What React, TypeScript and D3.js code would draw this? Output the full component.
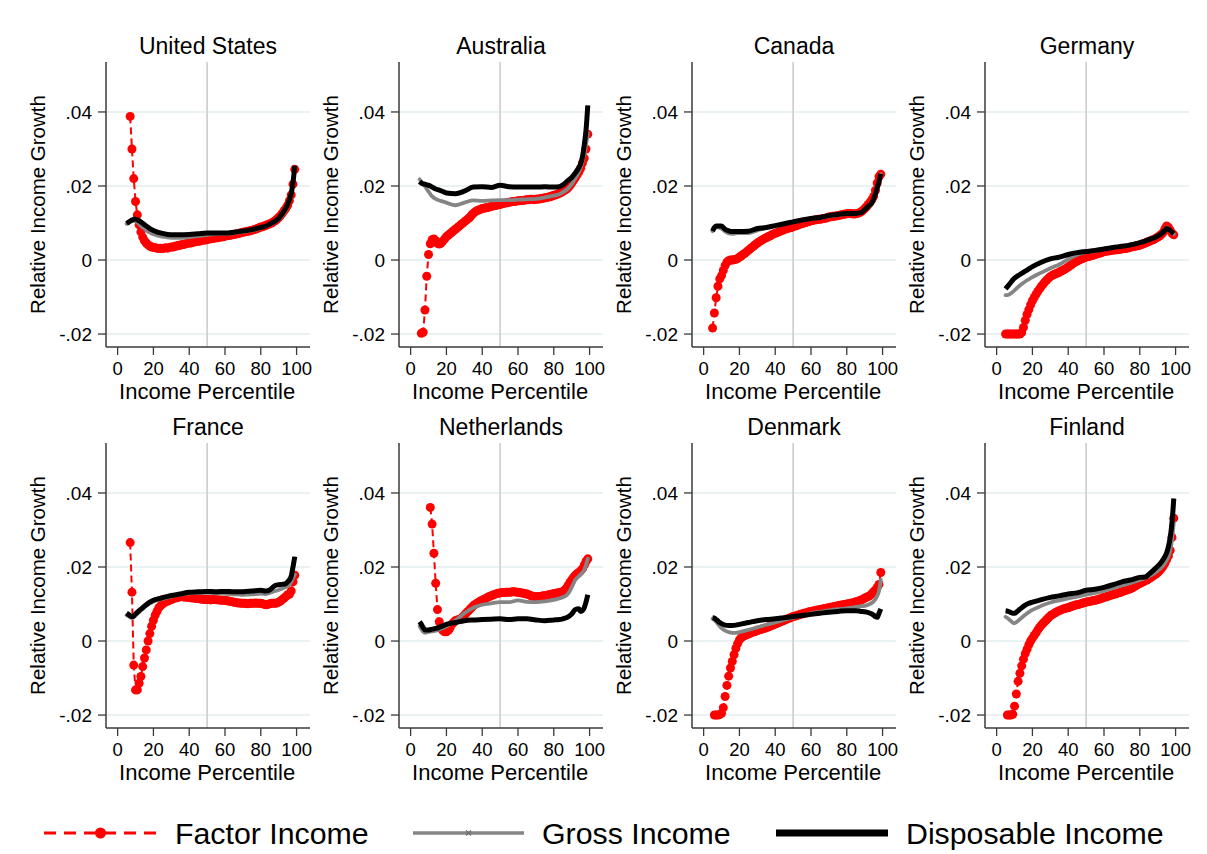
import React from 'react';
import * as d3 from 'd3';

// ---------- categories / labels ----------
const COUNTRIES = ["United States", "Australia", "Canada", "Germany", "France", "Netherlands", "Denmark", "Finland"];
const SERIES_NAMES = ["Factor Income", "Gross Income", "Disposable Income"];
const Y_TICKS = [-0.02, 0, 0.02, 0.04];
const Y_TICK_LABELS = ["-.02", "0", ".02", ".04"];
const X_TICKS = [0, 20, 40, 60, 80, 100];
const X_TITLE = "Income Percentile";
const Y_TITLE = "Relative Income Growth";

// percentiles for factor income (5..99, one per percentile)
const FACTOR_PCT = d3.range(5, 100);
// percentiles at which gross / disposable income are read
const LINE_PCT = [5, 6, 7, 8, 9, 10, 12, 14, 16, 18, 20, 25, 30, 35, 40, 45, 50, 55, 60, 65, 70, 75, 80, 83, 85, 88, 90, 92, 94, 95, 96, 97, 98, 99];

// ---------- United States ----------
const US_FACTOR = [
  null, null, .0388, .0300, .0220, .0158, .0122, .0095, .0076, .0062,
  .0052, .0046, .0041, .0038, .0035, .0034, .0033, .0032, .0031, .0032,
  .0031, .0032, .0033, .0032, .0034, .0035, .0035, .0037, .0038, .0040,
  .0040, .0042, .0042, .0044, .0045, .0046, .0046, .0048, .0049, .0050,
  .0051, .0051, .0053, .0054, .0054, .0055, .0057, .0057, .0058, .0059,
  .0060, .0060, .0062, .0062, .0063, .0064, .0066, .0066, .0067, .0068,
  .0069, .0070, .0071, .0072, .0074, .0075, .0076, .0077, .0078, .0079,
  .0080, .0082, .0083, .0085, .0087, .0089, .0090, .0092, .0094, .0096,
  .0098, .0100, .0103, .0106, .0110, .0115, .0120, .0126, .0133, .0140,
  .0148, .0160, .0176, .0205, .0245,
];
const US_GROSS = [.0098, .0100, .0103, .0105, .0106, .0105, .0097, .0088, .0080, .0074, .0070, .0063, .0060, .0060, .0062, .0065, .0068, .0070, .0071, .0073, .0076, .0080, .0086, .0091, .0095, .0103, .0110, .0120, .0135, .0145, .0158, .0175, .0205, .0250];
const US_DISP = [.0099, .0102, .0105, .0108, .0110, .0110, .0106, .0099, .0092, .0085, .0080, .0072, .0068, .0068, .0069, .0071, .0073, .0073, .0073, .0075, .0078, .0082, .0088, .0092, .0097, .0105, .0113, .0125, .0140, .0150, .0163, .0180, .0210, .0255];

// ---------- Australia ----------
const AU_FACTOR = [
  null, -.0198, -.0195, -.0135, -.0044, .0015, .0044, .0055, .0057, .0052,
  .0045, .0043, .0046, .0051, .0057, .0063, .0067, .0071, .0075, .0079,
  .0083, .0087, .0091, .0095, .0099, .0103, .0107, .0111, .0115, .0121,
  .0126, .0130, .0133, .0135, .0137, .0139, .0140, .0141, .0142, .0143,
  .0145, .0146, .0147, .0148, .0149, .0150, .0152, .0153, .0154, .0155,
  .0156, .0157, .0158, .0158, .0159, .0160, .0160, .0161, .0161, .0162,
  .0163, .0163, .0164, .0164, .0163, .0164, .0165, .0165, .0166, .0167,
  .0168, .0169, .0170, .0171, .0173, .0175, .0176, .0178, .0180, .0182,
  .0185, .0188, .0191, .0195, .0201, .0208, .0215, .0222, .0230, .0238,
  .0248, .0262, .0275, .0300, .0340,
];
const AU_GROSS = [.0218, .0212, .0205, .0200, .0192, .0185, .0172, .0165, .0161, .0158, .0155, .0148, .0155, .0161, .0160, .0161, .0162, .0162, .0163, .0164, .0165, .0169, .0174, .0178, .0183, .0193, .0205, .0220, .0238, .0250, .0265, .0285, .0310, .0345];
const AU_DISP = [.0212, .0208, .0206, .0205, .0203, .0202, .0197, .0192, .0189, .0185, .0181, .0179, .0186, .0197, .0198, .0196, .0202, .0198, .0197, .0197, .0197, .0198, .0197, .0198, .0203, .0215, .0223, .0235, .0250, .0260, .0278, .0310, .0350, .0418];

// ---------- Canada ----------
const CA_FACTOR = [
  -.0184, -.0143, -.0102, -.0071, -.0051, -.0042, -.0028, -.0015, -.0006, -.0002,
  .0000, .0000, .0001, .0002, .0004, .0008, .0011, .0015, .0018, .0022,
  .0026, .0030, .0034, .0038, .0042, .0046, .0049, .0052, .0055, .0058,
  .0060, .0063, .0065, .0068, .0070, .0072, .0074, .0076, .0078, .0080,
  .0082, .0084, .0085, .0087, .0088, .0090, .0092, .0093, .0095, .0097,
  .0098, .0100, .0101, .0103, .0104, .0106, .0107, .0108, .0109, .0110,
  .0110, .0111, .0112, .0113, .0114, .0116, .0117, .0118, .0118, .0119,
  .0120, .0121, .0122, .0123, .0124, .0125, .0126, .0126, .0125, .0124,
  .0125, .0126, .0128, .0130, .0134, .0139, .0144, .0150, .0156, .0163,
  .0172, .0188, .0208, .0225, .0232,
];
const CA_GROSS = [.0078, .0084, .0088, .0088, .0087, .0085, .0077, .0072, .0071, .0072, .0073, .0073, .0080, .0087, .0092, .0098, .0103, .0107, .0111, .0114, .0118, .0121, .0125, .0126, .0126, .0128, .0135, .0143, .0153, .0162, .0175, .0192, .0210, .0232];
const CA_DISP = [.0078, .0088, .0092, .0092, .0092, .0092, .0083, .0079, .0077, .0077, .0077, .0078, .0085, .0088, .0093, .0098, .0103, .0108, .0112, .0115, .0120, .0123, .0126, .0126, .0126, .0128, .0136, .0145, .0155, .0165, .0178, .0195, .0212, .0233];

// ---------- Germany ----------
const DE_FACTOR = [
  -.0200, -.0200, -.0200, -.0200, -.0200, -.0200, -.0200, -.0200, -.0200, -.0196,
  -.0182, -.0163, -.0147, -.0134, -.0121, -.0110, -.0101, -.0093, -.0085, -.0078,
  -.0071, -.0065, -.0059, -.0054, -.0049, -.0045, -.0042, -.0039, -.0037, -.0035,
  -.0033, -.0030, -.0028, -.0025, -.0022, -.0019, -.0016, -.0012, -.0008, -.0005,
  -.0003, .0000, .0002, .0004, .0006, .0008, .0009, .0010, .0012, .0013,
  .0015, .0016, .0018, .0019, .0021, .0023, .0024, .0024, .0025, .0026,
  .0027, .0027, .0028, .0028, .0029, .0030, .0031, .0031, .0032, .0033,
  .0035, .0036, .0037, .0038, .0039, .0040, .0042, .0044, .0046, .0048,
  .0050, .0052, .0054, .0056, .0059, .0062, .0065, .0069, .0074, .0084,
  .0092, .0088, .0080, .0072, .0068,
];
const DE_GROSS = [-.0095, -.0095, -.0093, -.0090, -.0086, -.0082, -.0073, -.0065, -.0058, -.0052, -.0046, -.0034, -.0022, -.0012, .0002, .0014, .0021, .0025, .0030, .0034, .0037, .0041, .0047, .0051, .0055, .0061, .0066, .0072, .0082, .0088, .0085, .0080, .0075, .0070];
const DE_DISP = [-.0078, -.0072, -.0066, -.0060, -.0054, -.0049, -.0042, -.0036, -.0030, -.0024, -.0018, -.0006, .0003, .0008, .0015, .0020, .0023, .0026, .0030, .0034, .0037, .0041, .0047, .0051, .0055, .0060, .0065, .0071, .0080, .0085, .0083, .0080, .0075, .0071];

// ---------- France ----------
const FR_FACTOR = [
  null, null, .0266, .0132, -.0065, -.0132, -.0132, -.0114, -.0096, -.0069,
  -.0046, -.0024, .0000, .0020, .0040, .0056, .0070, .0080, .0090, .0095,
  .0100, .0103, .0106, .0108, .0110, .0112, .0114, .0116, .0117, .0118,
  .0120, .0120, .0119, .0119, .0118, .0118, .0117, .0116, .0116, .0115,
  .0115, .0114, .0113, .0113, .0112, .0112, .0112, .0111, .0112, .0112,
  .0112, .0111, .0111, .0110, .0110, .0110, .0109, .0108, .0107, .0106,
  .0105, .0104, .0103, .0103, .0102, .0102, .0102, .0101, .0101, .0102,
  .0102, .0102, .0103, .0102, .0102, .0102, .0101, .0099, .0098, .0099,
  .0101, .0102, .0102, .0102, .0103, .0105, .0108, .0112, .0116, .0120,
  .0125, .0126, .0135, .0160, .0178,
];
const FR_GROSS = [.0070, .0068, .0064, .0062, .0064, .0069, .0078, .0087, .0095, .0102, .0107, .0114, .0120, .0125, .0129, .0130, .0130, .0129, .0128, .0126, .0125, .0126, .0128, .0127, .0130, .0135, .0138, .0142, .0146, .0148, .0152, .0160, .0170, .0180];
const FR_DISP = [.0075, .0072, .0068, .0066, .0068, .0073, .0082, .0090, .0098, .0105, .0110, .0117, .0123, .0127, .0132, .0133, .0134, .0133, .0134, .0133, .0133, .0135, .0137, .0135, .0138, .0150, .0152, .0153, .0155, .0160, .0165, .0175, .0200, .0228];

// ---------- Netherlands ----------
const NL_FACTOR = [
  null, null, null, null, null, null, .0361, .0316, .0237, .0156,
  .0085, .0052, .0035, .0028, .0025, .0025, .0028, .0035, .0045, .0050,
  .0055, .0057, .0058, .0060, .0065, .0070, .0075, .0080, .0085, .0090,
  .0095, .0099, .0102, .0105, .0108, .0110, .0113, .0115, .0118, .0120,
  .0122, .0124, .0126, .0128, .0129, .0130, .0131, .0131, .0132, .0132,
  .0132, .0132, .0133, .0133, .0132, .0132, .0131, .0130, .0129, .0128,
  .0127, .0125, .0123, .0121, .0120, .0120, .0119, .0120, .0121, .0122,
  .0122, .0123, .0125, .0126, .0127, .0128, .0129, .0130, .0131, .0132,
  .0133, .0137, .0143, .0150, .0158, .0165, .0172, .0178, .0182, .0185,
  .0190, .0195, .0205, .0215, .0222,
];
const NL_GROSS = [.0040, .0032, .0025, .0022, .0023, .0025, .0026, .0028, .0031, .0035, .0040, .0055, .0075, .0090, .0098, .0102, .0105, .0105, .0110, .0106, .0105, .0107, .0111, .0115, .0118, .0128, .0145, .0165, .0175, .0180, .0185, .0192, .0205, .0222];
const NL_DISP = [.0052, .0045, .0036, .0030, .0030, .0030, .0032, .0034, .0037, .0041, .0045, .0050, .0055, .0057, .0058, .0059, .0060, .0058, .0060, .0060, .0057, .0055, .0057, .0058, .0060, .0065, .0073, .0085, .0087, .0080, .0082, .0090, .0105, .0125];

// ---------- Denmark ----------
const DK_FACTOR = [
  null, -.0200, -.0200, -.0200, -.0199, -.0195, -.0180, -.0150, -.0120, -.0095,
  -.0073, -.0055, -.0037, -.0020, -.0007, .0003, .0009, .0012, .0015, .0017,
  .0019, .0021, .0023, .0025, .0026, .0028, .0030, .0031, .0033, .0034,
  .0036, .0038, .0040, .0042, .0044, .0046, .0048, .0050, .0052, .0054,
  .0056, .0058, .0060, .0062, .0064, .0066, .0067, .0069, .0070, .0072,
  .0073, .0075, .0076, .0077, .0079, .0080, .0081, .0082, .0083, .0084,
  .0085, .0086, .0087, .0088, .0089, .0090, .0091, .0092, .0093, .0094,
  .0095, .0096, .0097, .0098, .0099, .0100, .0101, .0102, .0103, .0104,
  .0106, .0107, .0109, .0111, .0113, .0116, .0118, .0120, .0123, .0128,
  .0133, .0138, .0145, .0153, .0185,
];
const DK_GROSS = [.0060, .0057, .0052, .0046, .0040, .0035, .0028, .0024, .0022, .0022, .0024, .0030, .0037, .0044, .0050, .0057, .0063, .0069, .0075, .0079, .0083, .0086, .0088, .0090, .0092, .0094, .0095, .0098, .0103, .0107, .0113, .0122, .0135, .0165];
const DK_DISP = [.0063, .0062, .0058, .0054, .0050, .0047, .0043, .0042, .0042, .0043, .0045, .0050, .0055, .0058, .0060, .0063, .0066, .0069, .0072, .0075, .0078, .0080, .0082, .0082, .0082, .0080, .0079, .0077, .0073, .0070, .0066, .0064, .0075, .0087];

// ---------- Finland ----------
const FI_FACTOR = [
  null, -.0200, -.0200, -.0200, -.0198, -.0176, -.0143, -.0109, -.0087, -.0067,
  -.0049, -.0034, -.0022, -.0010, .0000, .0008, .0015, .0022, .0030, .0037,
  .0043, .0048, .0053, .0058, .0063, .0068, .0071, .0074, .0077, .0080,
  .0082, .0084, .0086, .0088, .0089, .0090, .0092, .0094, .0095, .0097,
  .0098, .0099, .0101, .0102, .0104, .0105, .0106, .0107, .0108, .0109,
  .0110, .0111, .0113, .0114, .0116, .0118, .0119, .0121, .0122, .0124,
  .0125, .0127, .0128, .0130, .0131, .0133, .0135, .0137, .0138, .0140,
  .0142, .0144, .0147, .0150, .0153, .0155, .0158, .0160, .0163, .0165,
  .0168, .0171, .0174, .0178, .0181, .0185, .0190, .0195, .0202, .0210,
  .0220, .0230, .0245, .0280, .0332,
];
const FI_GROSS = [.0065, .0062, .0058, .0054, .0050, .0048, .0055, .0063, .0071, .0078, .0084, .0095, .0104, .0110, .0115, .0120, .0125, .0130, .0136, .0143, .0150, .0157, .0165, .0170, .0175, .0183, .0190, .0198, .0210, .0218, .0228, .0245, .0275, .0320];
const FI_DISP = [.0082, .0081, .0079, .0077, .0075, .0075, .0082, .0090, .0097, .0102, .0105, .0112, .0118, .0122, .0127, .0130, .0137, .0140, .0145, .0152, .0160, .0165, .0172, .0173, .0180, .0193, .0202, .0213, .0228, .0238, .0255, .0280, .0320, .0385];

const FACTOR_DATA = [US_FACTOR, AU_FACTOR, CA_FACTOR, DE_FACTOR, FR_FACTOR, NL_FACTOR, DK_FACTOR, FI_FACTOR];
const GROSS_DATA = [US_GROSS, AU_GROSS, CA_GROSS, DE_GROSS, FR_GROSS, NL_GROSS, DK_GROSS, FI_GROSS];
const DISP_DATA = [US_DISP, AU_DISP, CA_DISP, DE_DISP, FR_DISP, NL_DISP, DK_DISP, FI_DISP];

// ---------- styling ----------
const FONT = "'Liberation Sans', Arial, Helvetica, sans-serif";
const RED = "#ff0000";
const GRAY = "#858585";
const BLACK = "#000000";
const GRID = "#e3ecee";
const AXIS = "#3a3a3a";

const W = 1207;
const H = 854;
const PLOT_W = 204;
const PLOT_H = 285;
const LEFT0 = 106;
const TOP0 = 62;
const COL_STEP = 293;
const ROW_STEP = 381;

type Pt = { x: number; y: number | null };

function Panel({ idx }: { idx: number }) {
  const col = idx % 4;
  const row = Math.floor(idx / 4);
  const left = LEFT0 + col * COL_STEP;
  const top = TOP0 + row * ROW_STEP;

  const x = d3.scaleLinear().domain([-6.5, 107.5]).range([0, PLOT_W]);
  const y = d3.scaleLinear().domain([-0.0235, 0.0535]).range([PLOT_H, 0]);

  const factorPts: Pt[] = FACTOR_PCT.map((p, i) => ({ x: p, y: FACTOR_DATA[idx][i] ?? null }));
  const grossPts: Pt[] = LINE_PCT.map((p, i) => ({ x: p, y: GROSS_DATA[idx][i] ?? null }));
  const dispPts: Pt[] = LINE_PCT.map((p, i) => ({ x: p, y: DISP_DATA[idx][i] ?? null }));

  const smoothGen = d3
    .line<Pt>()
    .defined((d) => d.y !== null && d.y !== undefined)
    .x((d) => x(d.x))
    .y((d) => y(d.y as number))
    .curve(d3.curveMonotoneX);
  const factorLine = d3
    .line<Pt>()
    .defined((d) => d.y !== null && d.y !== undefined)
    .x((d) => x(d.x))
    .y((d) => y(d.y as number))(factorPts);

  return (
    <g transform={`translate(${left},${top})`}>
      {/* title */}
      <text x={PLOT_W / 2} y={-8} textAnchor="middle" fontSize={23} fontFamily={FONT} fill="#000">
        {COUNTRIES[idx]}
      </text>
      {/* horizontal grid */}
      {Y_TICKS.map((t) => (
        <line key={t} x1={0} x2={PLOT_W} y1={y(t)} y2={y(t)} stroke={GRID} strokeWidth={1.6} />
      ))}
      {/* vertical reference at 50 */}
      <line x1={x(50)} x2={x(50)} y1={0} y2={PLOT_H} stroke="#cdcdcd" strokeWidth={1.6} />

      {/* Factor income: dashed connecting line + dots */}
      <path d={factorLine || ''} fill="none" stroke={RED} strokeWidth={2} strokeDasharray="7,4" />
      {factorPts
        .filter((d) => d.y !== null)
        .map((d) => (
          <circle key={d.x} cx={x(d.x)} cy={y(d.y as number)} r={4.5} fill={RED} />
        ))}

      {/* Gross income */}
      <path d={smoothGen(grossPts) || ''} fill="none" stroke={GRAY} strokeWidth={3.8} strokeLinejoin="round" strokeLinecap="round" />
      {/* Disposable income */}
      <path d={smoothGen(dispPts) || ''} fill="none" stroke={BLACK} strokeWidth={5} strokeLinejoin="round" strokeLinecap="butt" />

      {/* y axis */}
      <line x1={0} x2={0} y1={0} y2={PLOT_H} stroke={AXIS} strokeWidth={1.5} />
      {Y_TICKS.map((t, i) => (
        <g key={t} transform={`translate(0,${y(t)})`}>
          <line x1={-8} x2={0} y1={0} y2={0} stroke={AXIS} strokeWidth={1.3} />
          <text x={-14} y={0} dy="0.35em" textAnchor="end" fontSize={19} fontFamily={FONT} fill="#000">
            {Y_TICK_LABELS[i]}
          </text>
        </g>
      ))}
      {/* y title */}
      <text
        transform={`translate(-61,${PLOT_H / 2}) rotate(-90)`}
        textAnchor="middle"
        fontSize={20.5}
        fontFamily={FONT}
        fill="#000"
      >
        {Y_TITLE}
      </text>

      {/* x axis */}
      <line x1={0} x2={PLOT_W} y1={PLOT_H} y2={PLOT_H} stroke={AXIS} strokeWidth={1.5} />
      {X_TICKS.map((t) => (
        <g key={t} transform={`translate(${x(t)},${PLOT_H})`}>
          <line x1={0} x2={0} y1={0} y2={8} stroke={AXIS} strokeWidth={1.3} />
          <text x={0} y={28} textAnchor="middle" fontSize={18.5} fontFamily={FONT} fill="#000">
            {t}
          </text>
        </g>
      ))}
      <text x={x(50)} y={PLOT_H + 52} textAnchor="middle" fontSize={22} fontFamily={FONT} fill="#000">
        {X_TITLE}
      </text>
    </g>
  );
}

function Legend() {
  const cy = 833;
  const items = [
    { x1: 44, x2: 157, tx: 175 },
    { x1: 413, x2: 524, tx: 542 },
    { x1: 776, x2: 888, tx: 906 },
  ];
  return (
    <g>
      {/* factor */}
      <line x1={items[0].x1} x2={items[0].x2} y1={cy} y2={cy} stroke={RED} strokeWidth={2.8} strokeDasharray="12,8" />
      <circle cx={(items[0].x1 + items[0].x2) / 2} cy={cy} r={5.5} fill={RED} />
      {/* gross */}
      <line x1={items[1].x1} x2={items[1].x2} y1={cy} y2={cy} stroke={GRAY} strokeWidth={3.5} />
      <path
        d={`M${(items[1].x1 + items[1].x2) / 2 - 2.5},${cy - 2.5} l5,5 M${(items[1].x1 + items[1].x2) / 2 + 2.5},${cy - 2.5} l-5,5`}
        stroke="#6e6e6e"
        strokeWidth={1.2}
      />
      {/* disposable */}
      <line x1={items[2].x1} x2={items[2].x2} y1={cy} y2={cy} stroke={BLACK} strokeWidth={7} />
      {SERIES_NAMES.map((s, i) => (
        <text key={s} x={items[i].tx} y={cy + 10.5} fontSize={30.3} fontFamily={FONT} fill="#000">
          {s}
        </text>
      ))}
    </g>
  );
}

export default function App() {
  return (
    <svg
      width={W}
      height={H}
      viewBox={`0 0 ${W} ${H}`}
      style={{ position: 'absolute', left: 0, top: 0, background: '#fff' }}
    >
      <rect x={0} y={0} width={W} height={H} fill="#fff" />
      {COUNTRIES.map((c, i) => (
        <Panel key={c} idx={i} />
      ))}
      <Legend />
    </svg>
  );
}
